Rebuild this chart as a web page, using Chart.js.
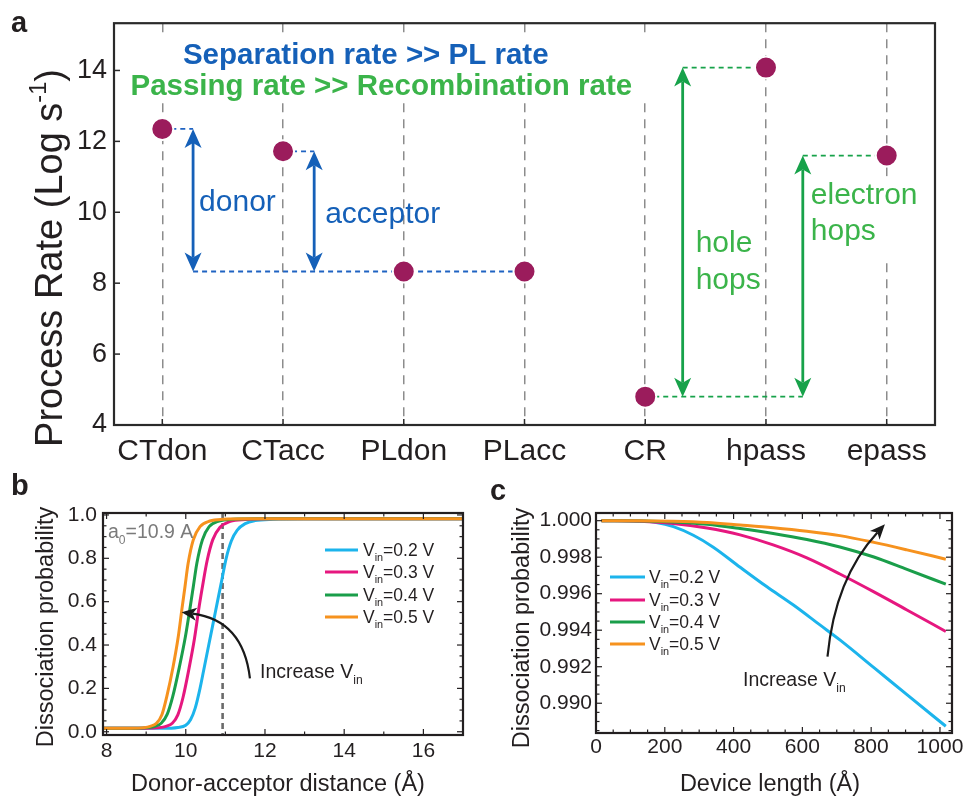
<!DOCTYPE html>
<html><head><meta charset="utf-8">
<script src="https://cdn.jsdelivr.net/npm/chart.js@4.4.1/dist/chart.umd.min.js"></script>
<style>
html,body{margin:0;padding:0;background:#fff;}
#wrap{position:relative;width:966px;height:796px;overflow:hidden;background:#fff;}
#wrap canvas{position:absolute;}
</style></head><body>
<div id="wrap">
<canvas id="ca" width="966" height="470" style="left:0;top:0"></canvas>
<canvas id="cb" width="483" height="326" style="left:0;top:470px"></canvas>
<canvas id="cc" width="483" height="326" style="left:483px;top:470px"></canvas>
</div>
<script>
// ---------------- DATA ----------------
// Panel a
const catNames = ['CTdon','CTacc','PLdon','PLacc','CR','hpass','epass'];
const catIndex = [0,1,2,3,4,5,6];
const logRate = [12.35, 11.72, 8.33, 8.33, 4.80, 14.08, 11.60];
const rateTicks = [4,6,8,10,12,14];

// Panel b (dissociation probability vs donor-acceptor distance)
const vinValues = ['0.2','0.3','0.4','0.5'];
const distV02 = [7.91, 9.4, 9.8, 10.0, 10.12, 10.24, 10.36, 10.47, 10.58, 10.69, 10.8, 10.91, 11.02, 11.15, 11.3, 11.5, 11.75, 12.2, 13.0, 17.0];
const probV02 = [0.016, 0.016, 0.02, 0.03, 0.055, 0.11, 0.2, 0.3, 0.4, 0.5, 0.6, 0.7, 0.8, 0.88, 0.93, 0.96, 0.974, 0.98, 0.982, 0.982];
const distV03 = [7.91, 9.0, 9.33, 9.5, 9.66, 9.8, 9.93, 10.08, 10.22, 10.34, 10.44, 10.54, 10.68, 10.86, 11.12, 11.5, 12.2, 17.0];
const probV03 = [0.016, 0.016, 0.019, 0.025, 0.039, 0.078, 0.158, 0.29, 0.43, 0.58, 0.69, 0.79, 0.885, 0.942, 0.970, 0.979, 0.982, 0.982];
const distV04 = [7.91, 8.7, 9.05, 9.22, 9.38, 9.53, 9.67, 9.84, 9.99, 10.1, 10.19, 10.28, 10.42, 10.59, 10.84, 11.2, 11.8, 17.0];
const probV04 = [0.016, 0.016, 0.019, 0.025, 0.039, 0.08, 0.162, 0.30, 0.438, 0.562, 0.669, 0.777, 0.885, 0.946, 0.972, 0.980, 0.982, 0.982];
const distV05 = [7.91, 8.6, 8.95, 9.1, 9.26, 9.4, 9.52, 9.68, 9.81, 9.9, 9.98, 10.06, 10.19, 10.36, 10.61, 10.95, 11.5, 17.0];
const probV05 = [0.016, 0.016, 0.019, 0.025, 0.039, 0.08, 0.162, 0.30, 0.438, 0.562, 0.669, 0.777, 0.885, 0.946, 0.972, 0.980, 0.982, 0.982];
const distTicks = [8,10,12,14,16];
const probTicks = [0,0.2,0.4,0.6,0.8,1.0];
const a0Distance = 10.93;

// Panel c (dissociation probability vs device length)
const lenV02 = [16, 80, 128, 175, 225, 283, 341, 419, 496, 574, 651, 709, 808, 904, 1017];
const dissV02 = [1.0000, 1.0000, 0.99998, 0.99990, 0.99967, 0.99920, 0.99855, 0.99745, 0.99639, 0.99538, 0.99429, 0.99347, 0.99195, 0.99047, 0.98874];
const lenV03 = [16, 128, 224, 323, 419, 515, 613, 709, 808, 904, 1017];
const dissV03 = [1.0000, 0.99997, 0.99985, 0.99960, 0.99922, 0.99867, 0.99796, 0.99708, 0.99610, 0.99511, 0.99393];
const lenV04 = [16, 128, 224, 323, 419, 515, 613, 709, 808, 904, 1017];
const dissV04 = [1.0000, 0.99998, 0.99993, 0.99980, 0.99957, 0.99930, 0.99897, 0.99856, 0.99801, 0.99733, 0.99652];
const lenV05 = [16, 128, 224, 323, 419, 515, 613, 709, 808, 904, 1017];
const dissV05 = [1.0000, 1.0000, 0.99997, 0.99990, 0.99976, 0.99961, 0.99942, 0.99918, 0.99881, 0.99840, 0.99789];
const lenTicks = [0,200,400,600,800,1000];
const dissTicks = [0.990,0.992,0.994,0.996,0.998,1.000];

// ---------------- STYLE ----------------
const FONT = '"Liberation Sans", Arial, Helvetica, sans-serif';
const INK = '#231f20';
const lineColors = ['#1cb4ec', '#e6177f', '#1a9e4a', '#f6921e']; // 0.2,0.3,0.4,0.5
const BLUE = '#1560b8', BLUE_DASH = '#1f63c2', GREEN_TXT = '#3bb44a', GREEN = '#17a24a', DOT = '#9b1c5c';

function drawRuns(ctx, runs, x, y, size, align, color, weight) {
  weight = weight || 'normal';
  const parts = runs.map(([t, k]) => {
    const s = k ? size * 0.62 : size;
    ctx.font = `${weight} ${s}px ${FONT}`;
    return {t, k, s, w: ctx.measureText(t).width};
  });
  const total = parts.reduce((a, p) => a + p.w, 0);
  let cx = align === 'center' ? x - total / 2 : (align === 'right' ? x - total : x);
  ctx.fillStyle = color; ctx.textBaseline = 'alphabetic'; ctx.textAlign = 'left';
  for (const p of parts) {
    ctx.font = `${weight} ${p.s}px ${FONT}`;
    const dy = p.k === 'sub' ? size * 0.3 : (p.k === 'sup' ? -size * 0.42 : 0);
    ctx.fillText(p.t, cx, y + dy);
    cx += p.w;
  }
  return total;
}
function rotatedRuns(ctx, runs, cy, baseX, size, color) {
  ctx.save();
  ctx.translate(baseX, cy);
  ctx.rotate(-Math.PI / 2);
  drawRuns(ctx, runs, 0, 0, size, 'center', color);
  ctx.restore();
}
function seg(ctx, x1, y1, x2, y2) { ctx.beginPath(); ctx.moveTo(x1, y1); ctx.lineTo(x2, y2); ctx.stroke(); }

function vArrow(ctx, px, yTop, yBot, color) {
  const L = 19, W = 8.5, N = 5;
  ctx.save();
  ctx.setLineDash([]);
  ctx.strokeStyle = color; ctx.fillStyle = color; ctx.lineWidth = 2.8;
  seg(ctx, px, yTop + L - N, px, yBot - L + N);
  const head = (tip, dir) => {
    ctx.beginPath();
    ctx.moveTo(px, tip);
    ctx.lineTo(px - W, tip + dir * L);
    ctx.lineTo(px, tip + dir * (L - N));
    ctx.lineTo(px + W, tip + dir * L);
    ctx.closePath(); ctx.fill();
  };
  head(yTop, 1); head(yBot, -1);
  ctx.restore();
}
function curvedArrow(ctx, p0, p1, p2, color) {
  ctx.save();
  ctx.strokeStyle = color; ctx.fillStyle = color; ctx.lineWidth = 2.2;
  const ang = Math.atan2(p2.y - p1.y, p2.x - p1.x);
  const L = 15, W = 6.5, N = 4;
  const ex = p2.x - Math.cos(ang) * (L - N), ey = p2.y - Math.sin(ang) * (L - N);
  ctx.beginPath(); ctx.moveTo(p0.x, p0.y); ctx.quadraticCurveTo(p1.x, p1.y, ex, ey); ctx.stroke();
  const bx = p2.x - Math.cos(ang) * L, by = p2.y - Math.sin(ang) * L;
  const nx = -Math.sin(ang), ny = Math.cos(ang);
  ctx.beginPath();
  ctx.moveTo(p2.x, p2.y);
  ctx.lineTo(bx + nx * W, by + ny * W);
  ctx.lineTo(p2.x - Math.cos(ang) * (L - N), p2.y - Math.sin(ang) * (L - N));
  ctx.lineTo(bx - nx * W, by - ny * W);
  ctx.closePath(); ctx.fill();
  ctx.restore();
}

// ---------------- PANEL A ----------------
const sepTitle = 'Separation rate >> PL rate';
const passTitle = 'Passing rate >> Recombination rate';
const donorArrowX = 0.255, acceptorArrowX = 1.258, holeArrowX = 4.31, electronArrowX = 5.305;

const panelAPlugin = {
  id: 'panelA',
  beforeDatasetsDraw(chart) {
    const {ctx, scales: {x, y}} = chart;
    const X = v => x.getPixelForValue(v), Y = v => y.getPixelForValue(v);
    ctx.save();
    const TS = 29.5;
    ctx.font = `bold ${TS}px ${FONT}`;
    const w1 = ctx.measureText(sepTitle).width, w2 = ctx.measureText(passTitle).width;
    const c1 = X(1.685), c2 = X(1.814), b1 = Y(14.17), b2 = Y(13.31);
    const bl = Math.min(c1 - w1 / 2, c2 - w2 / 2) - 6, br = Math.max(c1 + w1 / 2, c2 + w2 / 2) + 18;
    ctx.fillStyle = '#fff';
    ctx.fillRect(bl, b1 - 26, br - bl, (b2 + 8) - (b1 - 26));
    ctx.font = `${30}px ${FONT}`;
    const we = ctx.measureText('electron').width;
    const el = X(electronArrowX) + 8;
    ctx.fillRect(el - 4, Y(10.22) - 28, we + 10, (Y(9.22) + 22) - (Y(10.22) - 28));

    ctx.lineWidth = 1.8; ctx.setLineDash([5, 4]);
    ctx.strokeStyle = BLUE_DASH;
    seg(ctx, X(catIndex[0]), Y(logRate[0]), X(donorArrowX), Y(logRate[0]));
    seg(ctx, X(catIndex[1]), Y(logRate[1]), X(acceptorArrowX), Y(logRate[1]));
    seg(ctx, X(donorArrowX), Y(logRate[2]), X(catIndex[3]), Y(logRate[3]));
    ctx.strokeStyle = GREEN;
    seg(ctx, X(holeArrowX), Y(logRate[5]), X(catIndex[5]), Y(logRate[5]));
    seg(ctx, X(electronArrowX), Y(logRate[6]), X(catIndex[6]), Y(logRate[6]));
    seg(ctx, X(catIndex[4]), Y(logRate[4]), X(electronArrowX), Y(logRate[4]));
    ctx.setLineDash([]);

    vArrow(ctx, X(donorArrowX), Y(logRate[0]), Y(logRate[2]), BLUE);
    vArrow(ctx, X(acceptorArrowX), Y(logRate[1]), Y(logRate[2]), BLUE);
    vArrow(ctx, X(holeArrowX), Y(logRate[5]), Y(logRate[4]), GREEN);
    vArrow(ctx, X(electronArrowX), Y(logRate[6]), Y(logRate[4]), GREEN);

    drawRuns(ctx, [[sepTitle, '']], c1, b1, TS, 'center', BLUE, 'bold');
    drawRuns(ctx, [[passTitle, '']], c2, b2, TS, 'center', GREEN_TXT, 'bold');
    drawRuns(ctx, [['donor', '']], X(donorArrowX) + 6, Y(10.05), 30, 'left', BLUE);
    drawRuns(ctx, [['acceptor', '']], X(acceptorArrowX) + 11, Y(9.69), 30, 'left', BLUE);
    drawRuns(ctx, [['hole', '']], X(holeArrowX) + 13, Y(8.89), 30, 'left', GREEN_TXT);
    drawRuns(ctx, [['hops', '']], X(holeArrowX) + 13, Y(7.83), 30, 'left', GREEN_TXT);
    drawRuns(ctx, [['electron', '']], el, Y(10.22), 30, 'left', GREEN_TXT);
    drawRuns(ctx, [['hops', '']], el, Y(9.22), 30, 'left', GREEN_TXT);
    ctx.restore();
  },
  afterDraw(chart) {
    const {ctx, chartArea: a, scales: {x, y}} = chart;
    ctx.save();
    ctx.strokeStyle = '#2a2a2a'; ctx.lineWidth = 1.5; ctx.setLineDash([]);
    for (const v of rateTicks) { const py = y.getPixelForValue(v); seg(ctx, a.left, py, a.left + 6, py); }
    for (const v of catIndex) { const px = x.getPixelForValue(v); seg(ctx, px, a.bottom, px, a.bottom - 6); }
    ctx.lineWidth = 2.2;
    ctx.strokeRect(a.left, a.top, a.right - a.left, a.bottom - a.top);
    rotatedRuns(ctx, [['Process Rate (Log s', ''], ['-1', 'sup'], [')', '']], 258, 62, 38, INK);
    drawRuns(ctx, [['a', '']], 11, 32, 29, 'left', INK, 'bold');
    ctx.restore();
  }
};

new Chart(document.getElementById('ca'), {
  type: 'scatter',
  data: { datasets: [{
    data: catIndex.map((v, i) => ({x: v, y: logRate[i]})),
    pointRadius: 11, pointHoverRadius: 11, backgroundColor: DOT, borderColor: '#fff', borderWidth: 2
  }]},
  options: {
    responsive: false, animation: false, devicePixelRatio: 1, events: [],
    layout: {padding: {left: 0, top: 17, right: 31, bottom: 0}},
    plugins: {legend: {display: false}, tooltip: {enabled: false}},
    scales: {
      x: {type: 'linear', min: -0.4, max: 6.4,
        afterBuildTicks: s => { s.ticks = catIndex.map(v => ({value: v})); },
        afterFit: s => { s.height = 45; },
        ticks: {callback: v => catNames[v] ?? '', font: {family: FONT, size: 30}, color: INK, padding: 9, maxRotation: 0, autoSkip: false},
        grid: {display: true, drawTicks: false, color: '#8c8c8c', lineWidth: 1.5},
        border: {display: false, dash: [9, 7]}
      },
      y: {type: 'linear', min: 4, max: 15.333,
        afterBuildTicks: s => { s.ticks = rateTicks.map(v => ({value: v})); },
        afterFit: s => { s.width = 114; },
        ticks: {font: {family: FONT, size: 27}, color: INK, padding: 7},
        grid: {display: false, drawTicks: false}, border: {display: false}
      }
    }
  },
  plugins: [panelAPlugin]
});

// ---------------- PANELS B & C ----------------
function range(a, b, step, dec) { const out = []; for (let v = a; v <= b + step / 1000; v += step) out.push(+v.toFixed(dec)); return out; }
function frame(chart, xMinor, xMajor, yMinor, yMajor) {
  const {ctx, chartArea: a, scales: {x, y}} = chart;
  ctx.save(); ctx.strokeStyle = INK; ctx.setLineDash([]); ctx.lineWidth = 1.2;
  const isMaj = (arr, v) => arr.some(m => Math.abs(m - v) < 1e-9);
  for (const v of xMinor) {
    const px = x.getPixelForValue(v); if (px < a.left + 1 || px > a.right - 1) continue;
    const L = isMaj(xMajor, v) ? 6 : 3.5;
    seg(ctx, px, a.bottom, px, a.bottom - L); seg(ctx, px, a.top, px, a.top + L);
  }
  for (const v of yMinor) {
    const py = y.getPixelForValue(v); if (py < a.top + 1 || py > a.bottom - 1) continue;
    const L = isMaj(yMajor, v) ? 6 : 3.5;
    seg(ctx, a.left, py, a.left + L, py); seg(ctx, a.right, py, a.right - L, py);
  }
  ctx.lineWidth = 2.2;
  ctx.strokeRect(a.left, a.top, a.right - a.left, a.bottom - a.top);
  ctx.restore();
}
function legendBlock(ctx, x0, x1, tx, ys) {
  ctx.save();
  vinValues.forEach((v, i) => {
    ctx.strokeStyle = lineColors[i]; ctx.lineWidth = 3;
    seg(ctx, x0, ys[i], x1, ys[i]);
    drawRuns(ctx, [['V', ''], ['in', 'sub'], ['=' + v + ' V', '']], tx, ys[i] + 6, 17.5, 'left', INK);
  });
  ctx.restore();
}
function lineDatasets(xs, ys) {
  return xs.map((arr, i) => ({
    label: 'Vin=' + vinValues[i] + ' V',
    data: arr.map((v, j) => ({x: v, y: ys[i][j]})),
    showLine: true, borderColor: lineColors[i], borderWidth: 3, pointRadius: 0,
    cubicInterpolationMode: 'monotone', order: 3 - i, clip: false
  }));
}
const tickFont = {family: FONT, size: 21};

const panelBPlugin = {
  id: 'panelB',
  beforeDatasetsDraw(chart) {
    const {ctx, chartArea: a, scales: {x}} = chart;
    ctx.save();
    ctx.strokeStyle = '#6b6b6b'; ctx.lineWidth = 2.6; ctx.setLineDash([6, 4]);
    const px = x.getPixelForValue(a0Distance);
    seg(ctx, px, a.top, px, a.bottom);
    ctx.restore();
  },
  afterDraw(chart) {
    const {ctx, scales: {x, y}} = chart;
    frame(chart, range(8, 17, 1, 0), distTicks, range(0, 1, 0.05, 2), probTicks);
    ctx.save();
    drawRuns(ctx, [['a', ''], ['0', 'sub'], ['=10.9 A', '']], 108, 68, 19.5, 'left', '#7a7a7a');
    legendBlock(ctx, 325, 358, 363, [80, 102, 125, 147]);
    curvedArrow(ctx, {x: x.getPixelForValue(11.62), y: y.getPixelForValue(0.246)},
      {x: x.getPixelForValue(11.45), y: y.getPixelForValue(0.515)},
      {x: x.getPixelForValue(9.895), y: y.getPixelForValue(0.551)}, '#1a1a1a');
    drawRuns(ctx, [['Increase V', ''], ['in', 'sub']], 260, 208, 19.5, 'left', INK);
    drawRuns(ctx, [['Donor-acceptor distance (Å)', '']], 278, 321, 23.5, 'center', INK);
    rotatedRuns(ctx, [['Dissociation probability', '']], 157, 53, 23.5, INK);
    drawRuns(ctx, [['b', '']], 11, 25, 29, 'left', INK, 'bold');
    ctx.restore();
  }
};

new Chart(document.getElementById('cb'), {
  type: 'scatter',
  data: {datasets: lineDatasets([distV02, distV03, distV04, distV05], [probV02, probV03, probV04, probV05])},
  options: {
    responsive: false, animation: false, devicePixelRatio: 1, events: [],
    layout: {padding: {left: 0, top: 43, right: 20, bottom: 0}},
    plugins: {legend: {display: false}, tooltip: {enabled: false}},
    scales: {
      x: {type: 'linear', min: 7.91, max: 17.0,
        afterBuildTicks: s => { s.ticks = distTicks.map(v => ({value: v})); },
        afterFit: s => { s.height = 61; },
        ticks: {font: tickFont, color: INK, padding: 4, maxRotation: 0, autoSkip: false, callback: v => String(v)},
        grid: {display: false, drawTicks: false}, border: {display: false}
      },
      y: {type: 'linear', min: -0.015, max: 1.009,
        afterBuildTicks: s => { s.ticks = probTicks.map(v => ({value: v})); },
        afterFit: s => { s.width = 103; },
        ticks: {font: tickFont, color: INK, padding: 6, callback: v => Number(v).toFixed(1)},
        grid: {display: false, drawTicks: false}, border: {display: false}
      }
    }
  },
  plugins: [panelBPlugin]
});

const panelCPlugin = {
  id: 'panelC',
  afterDraw(chart) {
    const {ctx, scales: {x, y}} = chart;
    frame(chart, range(0, 1050, 50, 0), lenTicks, range(0.988, 1.0005, 0.0005, 4), dissTicks);
    ctx.save();
    legendBlock(ctx, 127, 162, 166, [107, 130, 152, 174]);
    curvedArrow(ctx, {x: x.getPixelForValue(673), y: y.getPixelForValue(0.99255)},
      {x: x.getPixelForValue(695), y: y.getPixelForValue(0.99685)},
      {x: x.getPixelForValue(840), y: y.getPixelForValue(0.99980)}, '#1a1a1a');
    drawRuns(ctx, [['Increase V', ''], ['in', 'sub']], 260, 216, 19.5, 'left', INK);
    drawRuns(ctx, [['Device length (Å)', '']], 287, 321, 23.5, 'center', INK);
    rotatedRuns(ctx, [['Dissociation probability', '']], 158, 46, 23.5, INK);
    drawRuns(ctx, [['c', '']], 7, 30, 29, 'left', INK, 'bold');
    ctx.restore();
  }
};

new Chart(document.getElementById('cc'), {
  type: 'scatter',
  data: {datasets: lineDatasets([lenV02, lenV03, lenV04, lenV05], [dissV02, dissV03, dissV04, dissV05])},
  options: {
    responsive: false, animation: false, devicePixelRatio: 1, events: [],
    layout: {padding: {left: 0, top: 43, right: 14, bottom: 0}},
    plugins: {legend: {display: false}, tooltip: {enabled: false}},
    scales: {
      x: {type: 'linear', min: 0, max: 1035,
        afterBuildTicks: s => { s.ticks = lenTicks.map(v => ({value: v})); },
        afterFit: s => { s.height = 63; },
        ticks: {font: tickFont, color: INK, padding: 2, maxRotation: 0, autoSkip: false, callback: v => String(v)},
        grid: {display: false, drawTicks: false}, border: {display: false}
      },
      y: {type: 'linear', min: 0.98837, max: 1.00042,
        afterBuildTicks: s => { s.ticks = dissTicks.map(v => ({value: v})); },
        afterFit: s => { s.width = 113; },
        ticks: {font: tickFont, color: INK, padding: 4, callback: v => Number(v).toFixed(3)},
        grid: {display: false, drawTicks: false}, border: {display: false}
      }
    }
  },
  plugins: [panelCPlugin]
});
</script>
</body></html>
